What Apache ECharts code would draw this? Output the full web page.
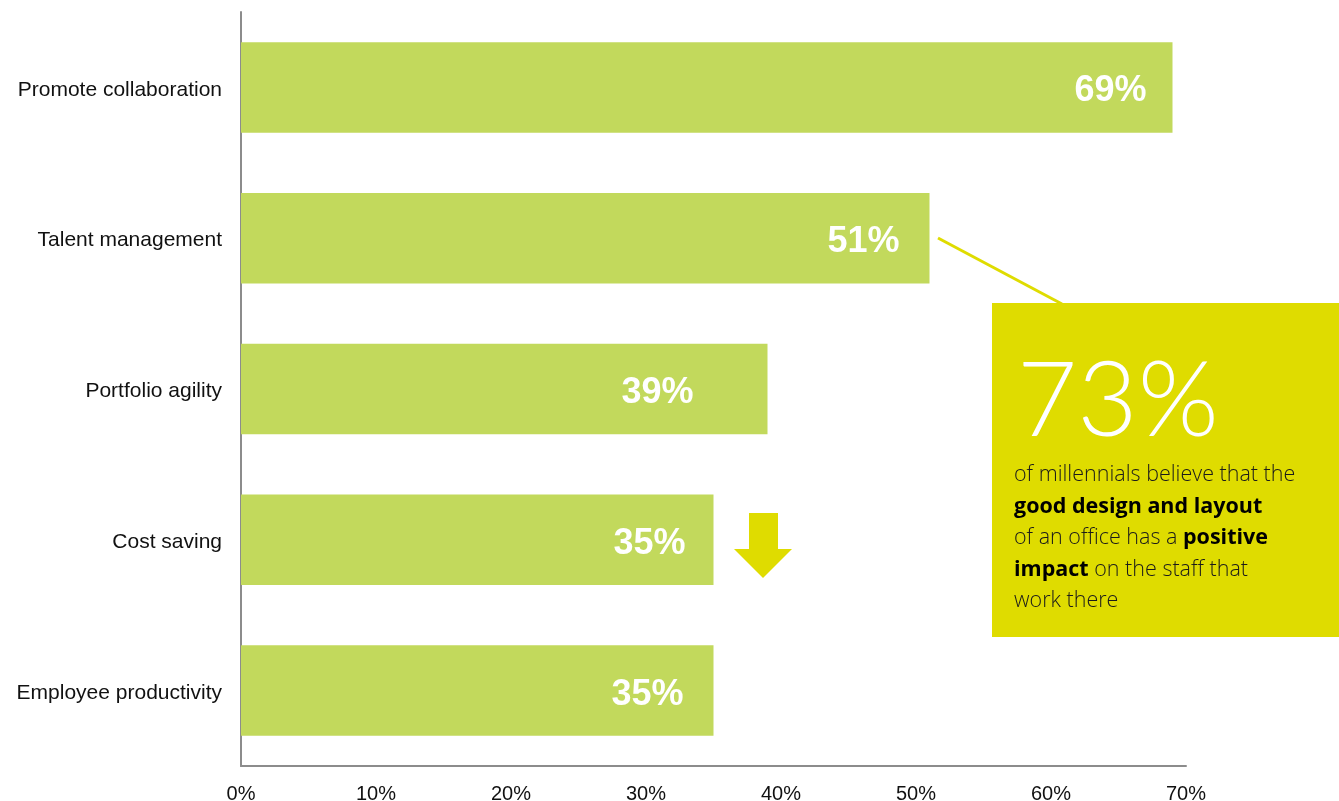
<!DOCTYPE html>
<html>
<head>
<meta charset="utf-8">
<script src="https://cdn.jsdelivr.net/npm/echarts@6/dist/echarts.min.js"></script>
<style>
  html, body { margin: 0; padding: 0; background: #ffffff; }
  #chart { width: 1339px; height: 801px; }
</style>
</head>
<body>
<div id="chart"></div>
<script>
// Reasons for office design investment (share of respondents, %)
const categories = [
  'Promote collaboration',
  'Talent management',
  'Portfolio agility',
  'Cost saving',
  'Employee productivity'
];
const values = [69, 51, 39, 35, 35];
const tickLabels = ['0%', '10%', '20%', '30%', '40%', '50%', '60%', '70%'];

// Callout copy
const calloutFigure = '73%';
const calloutLines = [
  [['n', 'of millennials believe that the']],
  [['b', 'good design and layout']],
  [['n', 'of an office has a '], ['b', 'positive']],
  [['b', 'impact'], ['n', ' on the staff that']],
  [['n', 'work there']]
];

const BAR = '#c2d95c';
const ACCENT = '#dfdc00';
const AXIS = '#8c8c8c';

// Label nudges per bar (the 39% label sits further from the bar end)
const labelOffsets = [-26, -30, -74, -28, -30];

const chart = echarts.init(document.getElementById('chart'), null, { renderer: 'canvas' });

const calloutText = calloutLines
  .map(line => line.map(([s, t]) => '{' + s + '|' + t + '}').join(''))
  .join('\n');

const option = {
  animation: false,
  backgroundColor: '#ffffff',
  grid: {
    left: 241, top: 12, width: 945, height: 754,
    containLabel: false,
    outerBoundsMode: 'none'
  },
  xAxis: {
    type: 'value',
    min: 0,
    max: 70,
    interval: 10,
    axisLine: { show: true, lineStyle: { color: AXIS, width: 2 } },
    axisTick: { show: false },
    splitLine: { show: false },
    axisLabel: {
      formatter: (v) => tickLabels[Math.round(v / 10)],
      color: '#111111',
      fontFamily: 'Liberation Sans, Arial, sans-serif',
      fontSize: 20,
      margin: 18
    }
  },
  yAxis: {
    type: 'category',
    data: categories,
    inverse: true,
    axisLine: { show: true, lineStyle: { color: AXIS, width: 2 } },
    axisTick: { show: false },
    axisLabel: {
      color: '#111111',
      fontFamily: 'Liberation Sans, Arial, sans-serif',
      fontSize: 21,
      margin: 19,
      verticalAlign: 'top',
      lineHeight: 5
    }
  },
  series: [{
    type: 'bar',
    barWidth: '60%',
    itemStyle: { color: BAR },
    data: values.map((v, i) => ({
      value: v,
      label: { offset: [labelOffsets[i], 4] }
    })),
    label: {
      show: true,
      position: 'insideRight',
      distance: 0,
      formatter: '{c}%',
      color: '#ffffff',
      fontFamily: 'Liberation Sans, Arial, sans-serif',
      fontWeight: 'bold',
      fontSize: 36
    }
  }],
  graphic: [
    // leader line from the Talent management bar to the callout
    {
      type: 'line',
      shape: { x1: 938, y1: 238, x2: 1062, y2: 304 },
      style: { stroke: ACCENT, lineWidth: 3 },
      z: 10
    },
    // callout panel
    {
      type: 'rect',
      shape: { x: 992, y: 303, width: 360, height: 334 },
      style: { fill: ACCENT },
      z: 10
    },
    {
      type: 'text',
      left: 1017,
      top: 350,
      style: {
        text: calloutFigure,
        fill: '#ffffff',
        fontFamily: 'Lato, "Open Sans", sans-serif',
        fontWeight: 300,
        fontSize: 104
      },
      z: 11
    },
    {
      type: 'text',
      left: 1014,
      top: 464,
      style: {
        text: calloutText,
        rich: {
          n: {
            fill: '#1a1a1a',
            fontFamily: '"Open Sans", sans-serif',
            fontWeight: 300,
            fontSize: 21.5,
            lineHeight: 31.5
          },
          b: {
            fill: '#000000',
            fontFamily: '"Open Sans", sans-serif',
            fontWeight: 'bold',
            fontSize: 21.5,
            lineHeight: 31.5
          }
        }
      },
      z: 11
    },
    // downward arrow beside the Cost saving bar
    {
      type: 'polygon',
      shape: {
        points: [[749, 513], [778, 513], [778, 549], [792, 549], [763, 578], [734, 549], [749, 549]]
      },
      style: { fill: ACCENT },
      z: 10
    }
  ]
};

chart.setOption(option);
</script>
</body>
</html>
